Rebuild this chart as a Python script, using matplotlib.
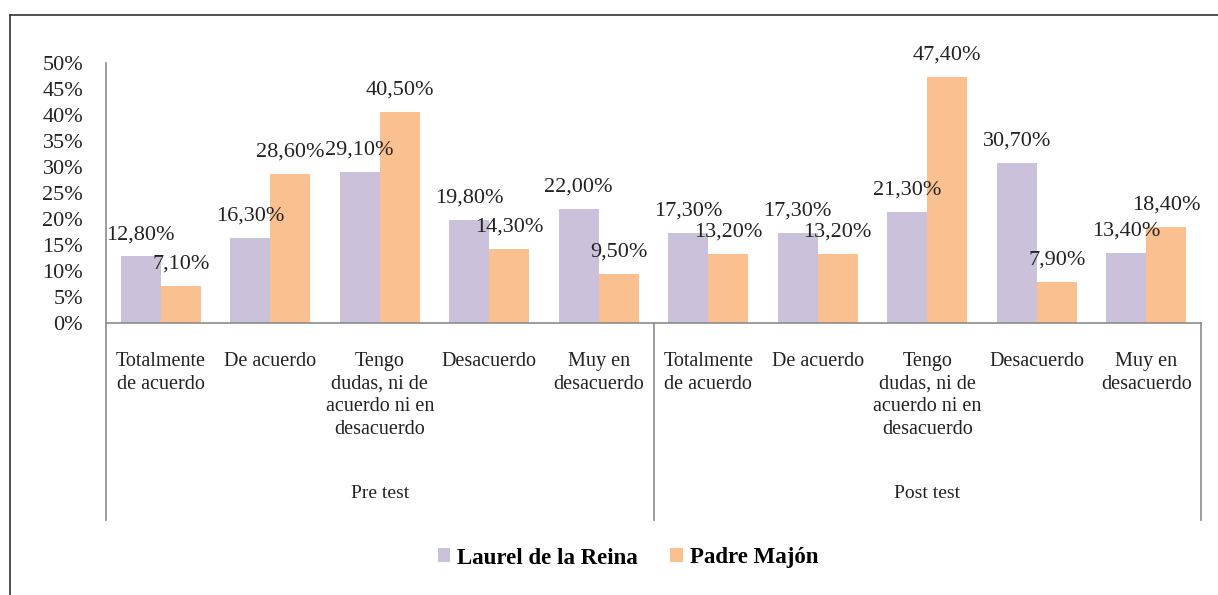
import matplotlib
matplotlib.use("Agg")
import matplotlib.pyplot as plt
import matplotlib.transforms as mtransforms
from matplotlib.patches import Patch
from matplotlib.lines import Line2D
import numpy as np

plt.rcParams['font.family'] = ['Liberation Serif', 'DejaVu Serif']

categories = ["Totalmente\nde acuerdo", "De acuerdo", "Tengo\ndudas, ni de\nacuerdo ni en\ndesacuerdo",
              "Desacuerdo", "Muy en\ndesacuerdo"] * 2
groups = ["Pre test", "Post test"]
series_names = ["Laurel de la Reina", "Padre Majón"]
laurel = [12.8, 16.3, 29.1, 19.8, 22.0, 17.3, 17.3, 21.3, 30.7, 13.4]
padre = [7.1, 28.6, 40.5, 14.3, 9.5, 13.2, 13.2, 47.4, 7.9, 18.4]
colors = ["#CCC1DA", "#FAC090"]

W, H = 1218, 595
fig = plt.figure(figsize=(W / 100, H / 100), dpi=100)

# outer frame (left and top edges)
fig.add_artist(Line2D([10 / W, 10 / W], [0, 1 - 15 / H], color="#333333", lw=1.2, transform=fig.transFigure))
fig.add_artist(Line2D([10 / W, 1], [1 - 15 / H, 1 - 15 / H], color="#333333", lw=1.2, transform=fig.transFigure))

left, right, bottom, top = 106 / W, 1201 / W, 1 - 323 / H, 1 - 63 / H
ax = fig.add_axes([left, bottom, right - left, top - bottom])

n = len(laurel)
x = np.arange(n)
bw = 0.366
ax.bar(x - bw / 2, laurel, width=bw, color=colors[0], label=series_names[0], zorder=2)
ax.bar(x + bw / 2, padre, width=bw, color=colors[1], label=series_names[1], zorder=2)

for xs, vals in ((x - bw / 2, laurel), (x + bw / 2, padre)):
    for xi, v in zip(xs, vals):
        ax.annotate(f"{v:.2f}%".replace(".", ","), (xi, v), xytext=(0, 12.5), textcoords="offset points",
                    ha="center", va="baseline", fontsize=16, color="#222222")

ax.set_xlim(-0.5, n - 0.5)
ax.set_ylim(0, 50)
ax.set_yticks(np.arange(0, 51, 5))
ax.set_yticklabels([f"{t}%" for t in range(0, 51, 5)])
ax.tick_params(axis="y", length=0, pad=16.5, labelsize=16, labelcolor="#222222")
ax.set_xticks([])
for s in ("top", "right"):
    ax.spines[s].set_visible(False)
for s in ("left", "bottom"):
    ax.spines[s].set_color("#8c8c8c")
    ax.spines[s].set_linewidth(1.2)

trans = mtransforms.blended_transform_factory(ax.transData, ax.transAxes)
ybot = (323 - 520) / 260
for xv in (-0.5, 4.5, 9.5):
    ax.add_line(Line2D([xv, xv], [0, ybot], color="#8c8c8c", lw=1.2, transform=trans, clip_on=False))

for xi, lab in zip(x, categories):
    ax.text(xi, -29 / 260, lab, transform=trans, ha="center", va="top", fontsize=14.5,
            color="#222222", linespacing=1.26)

for gi, g in enumerate(groups):
    ax.text(2 + 5 * gi, (323 - 493) / 260, g, transform=trans, ha="center", va="center",
            fontsize=14, color="#222222")

handles = [Patch(facecolor=colors[0]), Patch(facecolor=colors[1])]
fig.legend(handles, series_names, loc="center", bbox_to_anchor=(628 / W, 1 - 558 / H), ncol=2,
           frameon=False, prop={"size": 16.5, "weight": "bold"}, handlelength=0.55, handleheight=0.55,
           handletextpad=0.3, columnspacing=1.4)

fig.savefig("out.png", dpi=100)
